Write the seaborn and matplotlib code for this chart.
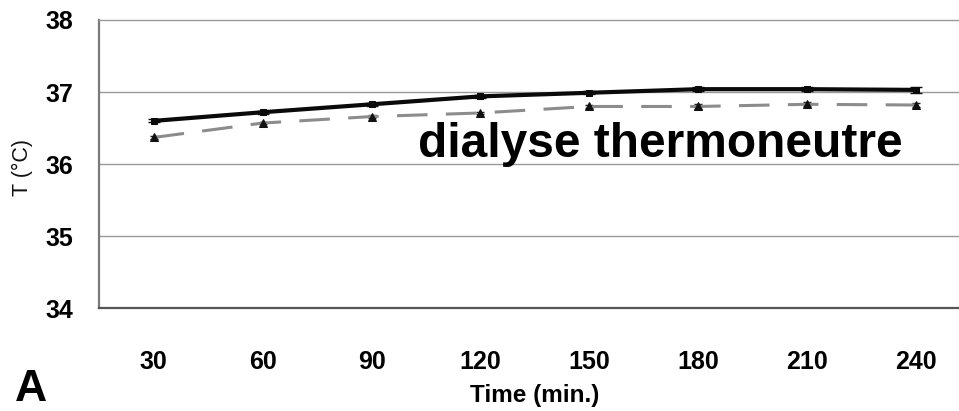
import numpy as np
import pandas as pd
import matplotlib
matplotlib.use("Agg")
import matplotlib.pyplot as plt
import seaborn as sns

# Session time points (minutes) and mean body temperature (°C)
times = [30, 60, 90, 120, 150, 180, 210, 240]
temp_solid = [36.60, 36.72, 36.83, 36.94, 36.99, 37.04, 37.04, 37.03]
temp_dashed = [36.37, 36.57, 36.66, 36.71, 36.80, 36.80, 36.83, 36.82]
err_solid = [0.02, 0.02, 0.02, 0.02, 0.02, 0.03, 0.03, 0.04]
err_dashed = [0.02, 0.02, 0.02, 0.02, 0.02, 0.03, 0.03, 0.03]
y_ticks = [34, 35, 36, 37, 38]

sns.set_style("white")
plt.rcParams["font.family"] = ["Liberation Sans", "DejaVu Sans"]
plt.rcParams["text.color"] = "black"
plt.rcParams["xtick.labelcolor"] = "black"
plt.rcParams["ytick.labelcolor"] = "black"

pos = np.arange(len(times))
df = pd.DataFrame({
    "pos": np.concatenate([pos, pos]),
    "temp": temp_solid + temp_dashed,
    "series": ["a"] * len(times) + ["b"] * len(times),
})

fig = plt.figure(figsize=(9.59, 4.11), dpi=100)
ax = fig.add_axes([0.1035, 0.2499, 0.9086, 0.7015])

# horizontal grid
for yv in y_ticks[1:-1]:
    ax.axhline(yv, color="#9a9a9a", lw=1.0, zorder=0)

# error bars
ax.errorbar(pos, temp_dashed, yerr=err_dashed, fmt="none", ecolor="#222222",
            elinewidth=1.0, capsize=3, zorder=2)
ax.errorbar(pos, temp_solid, yerr=err_solid, fmt="none", ecolor="#111111",
            elinewidth=1.0, capsize=4, zorder=2)

sns.lineplot(data=df[df.series == "b"], x="pos", y="temp", ax=ax,
             color="#8c8c8c", lw=2.2, marker="^", markersize=6,
             markerfacecolor="#111111", markeredgecolor="#111111",
             zorder=3, legend=False)
ax.lines[-1].set_dashes([10, 6])

sns.lineplot(data=df[df.series == "a"], x="pos", y="temp", ax=ax,
             color="#0a0a0a", lw=3.0, marker="s", markersize=5,
             markerfacecolor="#0a0a0a", markeredgecolor="#0a0a0a",
             zorder=4, legend=False)

ax.set_xlim(-0.5, len(times) - 0.5)
ax.set_ylim(y_ticks[0], y_ticks[-1])

# category labels centred, tick marks between categories
ax.set_xticks(pos)
ax.set_xticklabels([str(t) for t in times], fontsize=18, fontweight="bold")
ax.tick_params(axis="x", which="major", length=0, pad=30)
ax.set_xticks(np.arange(-0.5, len(times) + 0.5, 1.0), minor=True)
ax.tick_params(axis="x", which="minor", length=7, width=1.0,
               color="#777777", direction="out")

ax.set_yticks(y_ticks)
ax.set_yticklabels([str(v) for v in y_ticks], fontsize=18, fontweight="bold")
ax.tick_params(axis="y", length=8, width=1.0, color="#777777",
               direction="out", pad=11)

ax.set_xlabel("")
ax.set_ylabel("")

ax.spines["right"].set_visible(False)
ax.spines["top"].set_color("#9a9a9a")
ax.spines["top"].set_linewidth(1.0)
ax.spines["left"].set_color("#7a7a7a")
ax.spines["left"].set_linewidth(1.6)
ax.spines["bottom"].set_color("#555555")
ax.spines["bottom"].set_linewidth(1.6)

fig.text(535 / 959, 1 - 402 / 411, "Time (min.)", fontsize=17.5,
         fontweight="bold", ha="center", va="baseline")
fig.text(22 / 959, 1 - 167 / 411, "T (°C)", fontsize=15.5, rotation=90,
         ha="center", va="center", color="#111111")
fig.text(418 / 959, 1 - 157 / 411, "dialyse thermoneutre", fontsize=34.5,
         fontweight="bold", ha="left", va="baseline")
fig.text(15 / 959, 1 - 401 / 411, "A", fontsize=32, fontweight="bold",
         ha="left", va="baseline")

fig.savefig("out.png", dpi=100)
